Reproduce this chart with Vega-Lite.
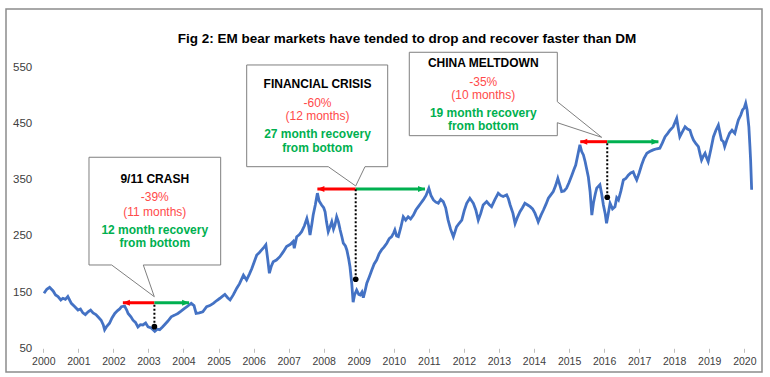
{
  "$schema": "https://vega.github.io/schema/vega-lite/v6.json",
  "width": 756,
  "height": 363,
  "autosize": {"type": "none"},
  "padding": {"left": 6, "top": 9, "right": 8, "bottom": 5},
  "background": "white",
  "title": {
    "text": "Fig 2: EM bear markets have tended to drop and recover faster than DM",
    "font": "Liberation Sans",
    "fontSize": 13.5,
    "fontWeight": "bold",
    "color": "#000000",
    "anchor": "middle",
    "frame": "group",
    "offset": -31,
    "baseline": "alphabetic",
    "dx": 23,
    "dy": 16
  },
  "config": {
    "view": {"stroke": "#8c8c8c", "strokeWidth": 1.5},
    "font": "Liberation Sans",
    "axis": {"labelOverlap": false, "labelSeparation": 0},
    "axisX": {"labelOverlap": false, "labelBound": false, "labelFlush": false}
  },
  "datasets": {
    "index": [
      {"year": 2000.02, "value": 148}, {"year": 2000.10, "value": 155}, {"year": 2000.18, "value": 158.5}, {"year": 2000.28, "value": 152},
      {"year": 2000.35, "value": 145}, {"year": 2000.42, "value": 142}, {"year": 2000.50, "value": 136}, {"year": 2000.56, "value": 139},
      {"year": 2000.63, "value": 137}, {"year": 2000.70, "value": 142}, {"year": 2000.80, "value": 130}, {"year": 2000.90, "value": 124},
      {"year": 2000.99, "value": 118}, {"year": 2001.06, "value": 120}, {"year": 2001.13, "value": 113}, {"year": 2001.20, "value": 110},
      {"year": 2001.28, "value": 115}, {"year": 2001.35, "value": 118}, {"year": 2001.42, "value": 113}, {"year": 2001.50, "value": 110},
      {"year": 2001.56, "value": 106}, {"year": 2001.65, "value": 100}, {"year": 2001.71, "value": 92}, {"year": 2001.75, "value": 83},
      {"year": 2001.80, "value": 88}, {"year": 2001.89, "value": 94.5}, {"year": 2001.96, "value": 104}, {"year": 2002.04, "value": 112},
      {"year": 2002.12, "value": 117}, {"year": 2002.18, "value": 120}, {"year": 2002.23, "value": 124}, {"year": 2002.32, "value": 125},
      {"year": 2002.38, "value": 118}, {"year": 2002.42, "value": 112}, {"year": 2002.50, "value": 106}, {"year": 2002.56, "value": 100},
      {"year": 2002.63, "value": 96}, {"year": 2002.70, "value": 88}, {"year": 2002.77, "value": 92}, {"year": 2002.84, "value": 91.5},
      {"year": 2002.92, "value": 95}, {"year": 2002.99, "value": 88}, {"year": 2003.08, "value": 86}, {"year": 2003.18, "value": 80},
      {"year": 2003.25, "value": 84}, {"year": 2003.32, "value": 83}, {"year": 2003.40, "value": 88}, {"year": 2003.46, "value": 92},
      {"year": 2003.55, "value": 98}, {"year": 2003.65, "value": 106}, {"year": 2003.75, "value": 109}, {"year": 2003.84, "value": 112},
      {"year": 2003.93, "value": 116}, {"year": 2004.03, "value": 121}, {"year": 2004.10, "value": 124}, {"year": 2004.16, "value": 127},
      {"year": 2004.22, "value": 130}, {"year": 2004.30, "value": 126}, {"year": 2004.36, "value": 112}, {"year": 2004.45, "value": 113},
      {"year": 2004.55, "value": 115}, {"year": 2004.66, "value": 124}, {"year": 2004.75, "value": 126}, {"year": 2004.85, "value": 130},
      {"year": 2004.95, "value": 135}, {"year": 2005.04, "value": 139}, {"year": 2005.10, "value": 142}, {"year": 2005.18, "value": 146},
      {"year": 2005.26, "value": 140}, {"year": 2005.33, "value": 136}, {"year": 2005.42, "value": 145}, {"year": 2005.52, "value": 157},
      {"year": 2005.60, "value": 165}, {"year": 2005.71, "value": 180}, {"year": 2005.80, "value": 171.5}, {"year": 2005.88, "value": 182},
      {"year": 2005.95, "value": 192}, {"year": 2006.02, "value": 204}, {"year": 2006.09, "value": 216}, {"year": 2006.16, "value": 220},
      {"year": 2006.23, "value": 225}, {"year": 2006.30, "value": 230}, {"year": 2006.35, "value": 234}, {"year": 2006.40, "value": 210},
      {"year": 2006.45, "value": 183.5}, {"year": 2006.50, "value": 195}, {"year": 2006.56, "value": 204}, {"year": 2006.65, "value": 207},
      {"year": 2006.75, "value": 213}, {"year": 2006.85, "value": 222}, {"year": 2006.94, "value": 231}, {"year": 2007.05, "value": 235},
      {"year": 2007.13, "value": 240}, {"year": 2007.16, "value": 228}, {"year": 2007.23, "value": 248.6}, {"year": 2007.30, "value": 252},
      {"year": 2007.37, "value": 257.5}, {"year": 2007.45, "value": 268}, {"year": 2007.52, "value": 281}, {"year": 2007.57, "value": 268},
      {"year": 2007.61, "value": 251.5}, {"year": 2007.66, "value": 270}, {"year": 2007.70, "value": 287}, {"year": 2007.76, "value": 305},
      {"year": 2007.82, "value": 326}, {"year": 2007.87, "value": 312}, {"year": 2007.94, "value": 305}, {"year": 2008.00, "value": 300},
      {"year": 2008.04, "value": 293}, {"year": 2008.08, "value": 275}, {"year": 2008.13, "value": 257.5}, {"year": 2008.18, "value": 266},
      {"year": 2008.23, "value": 275}, {"year": 2008.28, "value": 262}, {"year": 2008.32, "value": 269}, {"year": 2008.37, "value": 284},
      {"year": 2008.42, "value": 275}, {"year": 2008.47, "value": 260.5}, {"year": 2008.52, "value": 248}, {"year": 2008.56, "value": 237},
      {"year": 2008.62, "value": 232}, {"year": 2008.66, "value": 225}, {"year": 2008.71, "value": 210}, {"year": 2008.75, "value": 195},
      {"year": 2008.80, "value": 165.7}, {"year": 2008.84, "value": 132}, {"year": 2008.88, "value": 145}, {"year": 2008.94, "value": 153.7},
      {"year": 2009.00, "value": 146}, {"year": 2009.04, "value": 145}, {"year": 2009.09, "value": 150}, {"year": 2009.13, "value": 140},
      {"year": 2009.18, "value": 152}, {"year": 2009.23, "value": 165.7}, {"year": 2009.30, "value": 177}, {"year": 2009.37, "value": 189},
      {"year": 2009.44, "value": 200}, {"year": 2009.51, "value": 207}, {"year": 2009.58, "value": 218}, {"year": 2009.65, "value": 225},
      {"year": 2009.72, "value": 230}, {"year": 2009.80, "value": 237}, {"year": 2009.87, "value": 245}, {"year": 2009.94, "value": 248.6},
      {"year": 2010.00, "value": 256}, {"year": 2010.03, "value": 260.5}, {"year": 2010.08, "value": 250}, {"year": 2010.13, "value": 248.6},
      {"year": 2010.20, "value": 265}, {"year": 2010.27, "value": 284}, {"year": 2010.34, "value": 278}, {"year": 2010.41, "value": 284},
      {"year": 2010.48, "value": 280}, {"year": 2010.56, "value": 287}, {"year": 2010.63, "value": 296}, {"year": 2010.70, "value": 302},
      {"year": 2010.77, "value": 308}, {"year": 2010.84, "value": 314}, {"year": 2010.92, "value": 322}, {"year": 2011.00, "value": 334.7},
      {"year": 2011.06, "value": 322}, {"year": 2011.13, "value": 314}, {"year": 2011.20, "value": 310}, {"year": 2011.27, "value": 308},
      {"year": 2011.34, "value": 315}, {"year": 2011.41, "value": 311}, {"year": 2011.48, "value": 300}, {"year": 2011.55, "value": 278},
      {"year": 2011.62, "value": 262}, {"year": 2011.70, "value": 248.6}, {"year": 2011.75, "value": 258}, {"year": 2011.79, "value": 266},
      {"year": 2011.86, "value": 272}, {"year": 2011.94, "value": 278}, {"year": 2012.01, "value": 295}, {"year": 2012.08, "value": 308},
      {"year": 2012.17, "value": 317}, {"year": 2012.27, "value": 308}, {"year": 2012.34, "value": 296}, {"year": 2012.41, "value": 278},
      {"year": 2012.48, "value": 290}, {"year": 2012.55, "value": 305}, {"year": 2012.65, "value": 311}, {"year": 2012.72, "value": 306},
      {"year": 2012.79, "value": 302}, {"year": 2012.88, "value": 314}, {"year": 2012.98, "value": 326}, {"year": 2013.05, "value": 322},
      {"year": 2013.12, "value": 320}, {"year": 2013.22, "value": 323}, {"year": 2013.27, "value": 316}, {"year": 2013.32, "value": 305},
      {"year": 2013.40, "value": 290}, {"year": 2013.46, "value": 272}, {"year": 2013.52, "value": 282}, {"year": 2013.60, "value": 293},
      {"year": 2013.67, "value": 300}, {"year": 2013.74, "value": 308}, {"year": 2013.82, "value": 305}, {"year": 2013.89, "value": 302},
      {"year": 2013.96, "value": 298}, {"year": 2014.03, "value": 290}, {"year": 2014.08, "value": 282}, {"year": 2014.12, "value": 275},
      {"year": 2014.20, "value": 287}, {"year": 2014.27, "value": 296}, {"year": 2014.34, "value": 306}, {"year": 2014.41, "value": 317},
      {"year": 2014.48, "value": 323}, {"year": 2014.55, "value": 329}, {"year": 2014.62, "value": 340}, {"year": 2014.68, "value": 352.5},
      {"year": 2014.74, "value": 340}, {"year": 2014.79, "value": 329}, {"year": 2014.86, "value": 330}, {"year": 2014.93, "value": 335},
      {"year": 2015.00, "value": 345}, {"year": 2015.08, "value": 358}, {"year": 2015.14, "value": 368}, {"year": 2015.19, "value": 376},
      {"year": 2015.25, "value": 394}, {"year": 2015.31, "value": 412}, {"year": 2015.36, "value": 400}, {"year": 2015.41, "value": 394},
      {"year": 2015.46, "value": 382}, {"year": 2015.50, "value": 370}, {"year": 2015.55, "value": 355}, {"year": 2015.60, "value": 329},
      {"year": 2015.65, "value": 287}, {"year": 2015.70, "value": 310}, {"year": 2015.75, "value": 325}, {"year": 2015.79, "value": 335},
      {"year": 2015.88, "value": 341}, {"year": 2015.93, "value": 325}, {"year": 2015.98, "value": 305}, {"year": 2016.03, "value": 290},
      {"year": 2016.07, "value": 272.5}, {"year": 2016.12, "value": 290}, {"year": 2016.17, "value": 308}, {"year": 2016.24, "value": 298},
      {"year": 2016.31, "value": 302}, {"year": 2016.36, "value": 318}, {"year": 2016.41, "value": 314}, {"year": 2016.48, "value": 330},
      {"year": 2016.55, "value": 349.5}, {"year": 2016.62, "value": 352}, {"year": 2016.69, "value": 358}, {"year": 2016.76, "value": 362},
      {"year": 2016.83, "value": 364}, {"year": 2016.88, "value": 356}, {"year": 2016.93, "value": 349.5}, {"year": 2017.00, "value": 362},
      {"year": 2017.07, "value": 376}, {"year": 2017.14, "value": 388}, {"year": 2017.22, "value": 397}, {"year": 2017.30, "value": 400},
      {"year": 2017.40, "value": 403}, {"year": 2017.50, "value": 405}, {"year": 2017.59, "value": 406}, {"year": 2017.66, "value": 415},
      {"year": 2017.74, "value": 426.5}, {"year": 2017.81, "value": 432}, {"year": 2017.88, "value": 438}, {"year": 2017.97, "value": 444},
      {"year": 2018.07, "value": 459}, {"year": 2018.12, "value": 440}, {"year": 2018.16, "value": 426.5}, {"year": 2018.24, "value": 436},
      {"year": 2018.31, "value": 444}, {"year": 2018.38, "value": 440}, {"year": 2018.45, "value": 438}, {"year": 2018.50, "value": 428},
      {"year": 2018.55, "value": 420.6}, {"year": 2018.62, "value": 414}, {"year": 2018.69, "value": 408.7}, {"year": 2018.74, "value": 395},
      {"year": 2018.78, "value": 385}, {"year": 2018.83, "value": 392}, {"year": 2018.88, "value": 397}, {"year": 2018.93, "value": 388},
      {"year": 2018.97, "value": 382}, {"year": 2019.05, "value": 405}, {"year": 2019.12, "value": 426.5}, {"year": 2019.19, "value": 438},
      {"year": 2019.26, "value": 447}, {"year": 2019.31, "value": 432}, {"year": 2019.35, "value": 420.6}, {"year": 2019.40, "value": 418},
      {"year": 2019.44, "value": 408.7}, {"year": 2019.50, "value": 420}, {"year": 2019.58, "value": 432.5}, {"year": 2019.65, "value": 438},
      {"year": 2019.73, "value": 432.5}, {"year": 2019.78, "value": 445}, {"year": 2019.83, "value": 456}, {"year": 2019.90, "value": 465},
      {"year": 2019.95, "value": 474}, {"year": 2020.00, "value": 478}, {"year": 2020.04, "value": 486}, {"year": 2020.08, "value": 474},
      {"year": 2020.13, "value": 444}, {"year": 2020.16, "value": 410}, {"year": 2020.18, "value": 385}, {"year": 2020.21, "value": 332}
    ],
    "callouts": [
      {"event": "9/11 crash", "order": 1, "year": 2001.304, "value": 389.9},
      {"event": "9/11 crash", "order": 2, "year": 2005.061, "value": 389.9},
      {"event": "9/11 crash", "order": 3, "year": 2005.061, "value": 198.2},
      {"event": "9/11 crash", "order": 4, "year": 2002.853, "value": 198.2},
      {"event": "9/11 crash", "order": 5, "year": 2003.167, "value": 141.8},
      {"event": "9/11 crash", "order": 6, "year": 2001.951, "value": 198.2},
      {"event": "9/11 crash", "order": 7, "year": 2001.304, "value": 198.2},
      {"event": "9/11 crash", "order": 8, "year": 2001.304, "value": 389.9},
      {"event": "Financial crisis", "order": 1, "year": 2005.803, "value": 554.1},
      {"event": "Financial crisis", "order": 2, "year": 2009.826, "value": 554.1},
      {"event": "Financial crisis", "order": 3, "year": 2009.826, "value": 373.1},
      {"event": "Financial crisis", "order": 4, "year": 2009.178, "value": 373.1},
      {"event": "Financial crisis", "order": 5, "year": 2008.913, "value": 338.8},
      {"event": "Financial crisis", "order": 6, "year": 2008.131, "value": 373.1},
      {"event": "Financial crisis", "order": 7, "year": 2005.803, "value": 373.1},
      {"event": "Financial crisis", "order": 8, "year": 2005.803, "value": 554.1},
      {"event": "China meltdown", "order": 1, "year": 2010.442, "value": 576.7},
      {"event": "China meltdown", "order": 2, "year": 2014.665, "value": 576.7},
      {"event": "China meltdown", "order": 3, "year": 2014.665, "value": 488.8},
      {"event": "China meltdown", "order": 4, "year": 2015.931, "value": 425.4},
      {"event": "China meltdown", "order": 5, "year": 2014.665, "value": 451.4},
      {"event": "China meltdown", "order": 6, "year": 2014.665, "value": 428.3},
      {"event": "China meltdown", "order": 7, "year": 2010.442, "value": 428.3},
      {"event": "China meltdown", "order": 8, "year": 2010.442, "value": 576.7}
    ],
    "arrows": [
      {"event": "9/11 crash", "kind": "drop", "from": 2003.17, "to": 2002.27, "level": 131},
      {"event": "9/11 crash", "kind": "recovery", "from": 2003.17, "to": 2004.16, "level": 131},
      {"event": "Financial crisis", "kind": "drop", "from": 2008.913, "to": 2007.82, "level": 333.5},
      {"event": "Financial crisis", "kind": "recovery", "from": 2008.913, "to": 2010.89, "level": 333.5},
      {"event": "China meltdown", "kind": "drop", "from": 2016.09, "to": 2015.32, "level": 417.6},
      {"event": "China meltdown", "kind": "recovery", "from": 2016.09, "to": 2017.55, "level": 417.6}
    ],
    "events": [
      {"event": "9/11 crash", "year": 2003.17, "level": 131, "bottom": 88.4},
      {"event": "Financial crisis", "year": 2008.913, "level": 333.5, "bottom": 172.8},
      {"event": "China meltdown", "year": 2016.09, "level": 417.6, "bottom": 318.7}
    ],
    "notes": [
      {"event": "9/11 crash", "kind": "name", "text": "9/11 CRASH", "year": 2003.18, "value": 350.7},
      {"event": "9/11 crash", "kind": "drop", "text": "-39%", "year": 2003.18, "value": 319.8},
      {"event": "9/11 crash", "kind": "drop", "text": "(11 months)", "year": 2003.18, "value": 292},
      {"event": "9/11 crash", "kind": "recovery", "text": "12 month recovery", "year": 2003.18, "value": 260.5},
      {"event": "9/11 crash", "kind": "recovery", "text": "from bottom", "year": 2003.18, "value": 236.8},
      {"event": "Financial crisis", "kind": "name", "text": "FINANCIAL CRISIS", "year": 2007.823, "value": 520.3},
      {"event": "Financial crisis", "kind": "drop", "text": "-60%", "year": 2007.823, "value": 487},
      {"event": "Financial crisis", "kind": "drop", "text": "(12 months)", "year": 2007.823, "value": 463.3},
      {"event": "Financial crisis", "kind": "recovery", "text": "27 month recovery", "year": 2007.823, "value": 431.3},
      {"event": "Financial crisis", "kind": "recovery", "text": "from bottom", "year": 2007.823, "value": 406.9},
      {"event": "China meltdown", "kind": "name", "text": "CHINA MELTDOWN", "year": 2012.553, "value": 558.2},
      {"event": "China meltdown", "kind": "drop", "text": "-35%", "year": 2012.553, "value": 524.4},
      {"event": "China meltdown", "kind": "drop", "text": "(10 months)", "year": 2012.553, "value": 500.7},
      {"event": "China meltdown", "kind": "recovery", "text": "19 month recovery", "year": 2012.553, "value": 469.2},
      {"event": "China meltdown", "kind": "recovery", "text": "from bottom", "year": 2012.553, "value": 445.6}
    ]
  },
  "layer": [
    {
      "data": {"name": "index"},
      "mark": {"type": "line", "color": "#4472c4", "strokeWidth": 2.8},
      "encoding": {
        "x": {
          "field": "year", "type": "quantitative", "title": null,
          "scale": {"domain": [1998.936, 2020.505], "nice": false, "zero": false},
          "axis": {
            "title": null,
            "values": [2000, 2001, 2002, 2003, 2004, 2005, 2006, 2007, 2008, 2009, 2010, 2011, 2012, 2013, 2014, 2015, 2016, 2017, 2018, 2019, 2020],
            "tickCount": 21,
            "format": "d", "offset": -23.7, "domain": false, "grid": false,
            "ticks": true, "tickSize": 4, "tickColor": "#bfbfbf",
            "labelFontSize": 10.5, "labelColor": "#404040", "labelPadding": 4,
            "labelFont": "Liberation Sans", "labelFlush": false, "labelOverlap": false, "labelBound": false
          }
        },
        "y": {
          "field": "value", "type": "quantitative", "title": null,
          "scale": {"domain": [7.8, 653.7], "nice": false, "zero": false},
          "axis": {
            "title": null,
            "values": [50, 150, 250, 350, 450, 550],
            "offset": -37.3, "domain": false, "grid": false, "ticks": false,
            "labelFontSize": 11.5, "labelColor": "#404040", "labelPadding": 11.6,
            "labelFont": "Liberation Sans"
          }
        }
      }
    },
    {
      "mark": {"type": "rule", "color": "#d9d9d9", "strokeWidth": 1.5},
      "encoding": {
        "x": {"datum": 2000, "type": "quantitative", "title": null},
        "x2": {"datum": 2020.23},
        "y": {"datum": 50, "type": "quantitative", "title": null}
      }
    },
    {
      "data": {"name": "callouts"},
      "mark": {"type": "line", "color": "#7f7f7f", "strokeWidth": 1, "interpolate": "linear"},
      "encoding": {
        "x": {"field": "year", "type": "quantitative", "title": null},
        "y": {"field": "value", "type": "quantitative", "title": null},
        "order": {"field": "order"},
        "detail": {"field": "event"}
      }
    },
    {
      "data": {"name": "arrows"},
      "mark": {"type": "rule", "strokeWidth": 3},
      "encoding": {
        "x": {"field": "from", "type": "quantitative", "title": null},
        "x2": {"field": "to"},
        "y": {"field": "level", "type": "quantitative", "title": null},
        "color": {
          "field": "kind", "type": "nominal",
          "scale": {"domain": ["drop", "recovery", "name"], "range": ["#ff0000", "#00b050", "#000000"]},
          "legend": null
        }
      }
    },
    {
      "data": {"name": "arrows"},
      "mark": {"type": "point", "filled": true, "opacity": 1, "size": 49, "strokeWidth": 0},
      "encoding": {
        "x": {"field": "to", "type": "quantitative", "title": null},
        "y": {"field": "level", "type": "quantitative", "title": null},
        "color": {
          "field": "kind", "type": "nominal",
          "scale": {"domain": ["drop", "recovery", "name"], "range": ["#ff0000", "#00b050", "#000000"]},
          "legend": null
        },
        "shape": {
          "field": "kind", "type": "nominal",
          "scale": {"domain": ["drop", "recovery"], "range": ["M0,0L2,-0.85L2,0.85Z", "M0,0L-2,-0.85L-2,0.85Z"]},
          "legend": null
        }
      }
    },
    {
      "data": {"name": "events"},
      "mark": {"type": "rule", "color": "#000000", "strokeWidth": 2, "strokeDash": [2, 2]},
      "encoding": {
        "x": {"field": "year", "type": "quantitative", "title": null},
        "y": {"field": "bottom", "type": "quantitative", "title": null},
        "y2": {"field": "level"}
      }
    },
    {
      "data": {"name": "events"},
      "mark": {"type": "point", "filled": true, "opacity": 1, "color": "#000000", "size": 32},
      "encoding": {
        "x": {"field": "year", "type": "quantitative", "title": null},
        "y": {"field": "bottom", "type": "quantitative", "title": null}
      }
    },
    {
      "data": {"name": "notes"},
      "transform": [{"filter": "datum.kind !== 'drop'"}],
      "mark": {"type": "text", "fontWeight": "bold", "fontSize": 12, "align": "center", "baseline": "middle", "font": "Liberation Sans"},
      "encoding": {
        "x": {"field": "year", "type": "quantitative", "title": null},
        "y": {"field": "value", "type": "quantitative", "title": null},
        "text": {"field": "text"},
        "color": {
          "field": "kind", "type": "nominal",
          "scale": {"domain": ["drop", "recovery", "name"], "range": ["#ff0000", "#00b050", "#000000"]},
          "legend": null
        }
      }
    },
    {
      "data": {"name": "notes"},
      "transform": [{"filter": "datum.kind === 'drop'"}],
      "mark": {"type": "text", "fontSize": 12, "align": "center", "baseline": "middle", "font": "Liberation Sans", "color": "#ff4a4a"},
      "encoding": {
        "x": {"field": "year", "type": "quantitative", "title": null},
        "y": {"field": "value", "type": "quantitative", "title": null},
        "text": {"field": "text"}
      }
    }
  ]
}
